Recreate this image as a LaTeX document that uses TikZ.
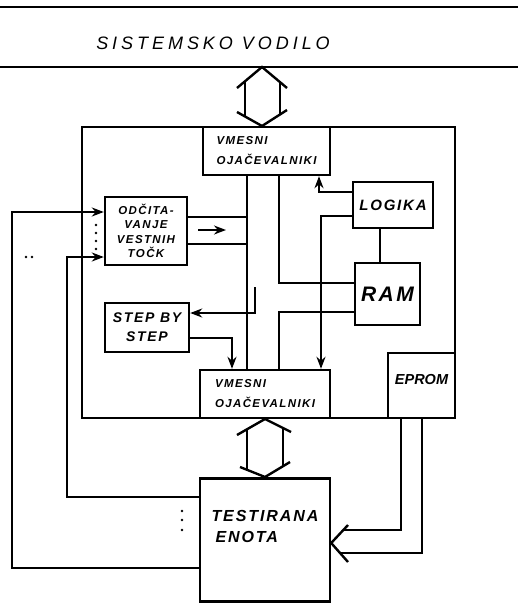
\documentclass[tikz,border=0pt]{standalone}
\usepackage{fontspec}
\setmainfont{Liberation Sans}
\newfontfamily\lettering{Liberation Sans}[LetterSpace=12]
\newfontfamily\titlelettering{Liberation Sans}[LetterSpace=22]
\usetikzlibrary{arrows.meta,positioning,calc}

\begin{document}
\begin{tikzpicture}[
      x=1pt, y=-1pt,
      line width=2.4pt,
      box/.style={rectangle, draw, line width=2.4pt, inner sep=2pt, align=center, font=\lettering\bfseries\itshape},
      arrow/.style={-{Stealth[length=12pt,width=9pt]}},
      dotmark/.style={fill, circle, inner sep=0pt, minimum size=2.8pt}
    ]
    \useasboundingbox (0,0) rectangle (518,603);

    % System bus
    \coordinate (busLa) at (0,7);
    \coordinate (busRa) at (518,7);
    \coordinate (busLb) at (0,67);
    \coordinate (busRb) at (518,67);
    \draw[line width=1.8pt] (busLa) -- (busRa);
    \draw (busLb) -- (busRb);
    \node[font=\titlelettering\itshape\fontsize{18}{21}\selectfont] (vodilo) at (213,43) {SISTEMSKO VODILO};

    % Main blocks
    \node[box, minimum width=373pt, minimum height=291pt] (main) at (268.5,272.5) {};
    \node[box, minimum width=127pt, minimum height=48pt, align=left, font=\lettering\bfseries\itshape\fontsize{11.5}{20}\selectfont] (vmtop) at (266.5,151) {VMESNI\\OJAČEVALNIKI};
    \node[box, minimum width=130pt, minimum height=48pt, align=left, font=\lettering\bfseries\itshape\fontsize{11.5}{20}\selectfont] (vmbot) at (265,394) {VMESNI\\OJAČEVALNIKI};
    \node[box, minimum width=82pt, minimum height=68pt, font=\lettering\bfseries\itshape\fontsize{11.5}{14.5}\selectfont] (odc) at (146,231) {ODČITA-\\VANJE\\VESTNIH\\TOČK};
    \node[box, minimum width=80pt, minimum height=46pt, font=\lettering\bfseries\itshape\fontsize{15}{18}\selectfont] (logika) at (393,205) {LOGIKA};
    \node[box, minimum width=65pt, minimum height=62pt, font=\lettering\bfseries\itshape\fontsize{21}{24}\selectfont] (ram) at (387.5,294) {RAM};
    \node[box, minimum width=84pt, minimum height=49pt, font=\lettering\bfseries\itshape\fontsize{14}{19}\selectfont] (step) at (147,327.5) {STEP BY\\STEP};
    \node[box, minimum width=67pt, minimum height=65pt, font=\bfseries\itshape\fontsize{14.5}{18}\selectfont] (eprom) at (421.5,385.5) {EPROM\\[-6pt]};
    \node[box, minimum width=130pt, minimum height=123pt, align=left, font=\lettering\bfseries\itshape\fontsize{16}{21}\selectfont] (test) at (265,540) {TESTIRANA\\\hspace*{4pt}ENOTA\\[6pt]};

    % Bus arrow to the system bus
    \draw (237,88) -- (262,67) -- (287,88);
    \draw (245,81) -- (245,116);
    \draw (280,82) -- (280,114);
    \draw (237,112) -- (262,126) -- (287,110);

    % Bus arrow to the unit under test
    \draw (237,435) -- (265,419) -- (291,432);
    \draw (247,429) -- (247,470);
    \draw (283,428) -- (283,466);
    \draw (240,467) -- (265,477) -- (290,462);

    % Lines from the unit under test back to the read-out block
    \draw[arrow] (test.west |- 0,568) -| (12,212) -- (odc.west |- 0,212);
    \draw[arrow] (test.west |- 0,497) -| (67,257) -- (odc.west |- 0,257);
    \foreach \yy in {225,233,241,249}
      \node[dotmark] (dl\yy) at (96,\yy) {};
    \node[dotmark] (dm1) at (26,257) {};
    \node[dotmark] (dm2) at (32,257) {};
    \foreach \yy in {511,520,530}
      \node[dotmark] (dt\yy) at (182,\yy) {};

    % Read-out block onto the inner bus
    \draw (odc.east |- 0,217) -- (247,217);
    \draw (odc.east |- 0,244) -- (247,244);
    \draw[arrow, line width=1.8pt] (198,230) -- (226,230);

    % Inner bus lines
    \draw (vmtop.south -| 247,0) -- (vmbot.north -| 247,0);
    \draw (vmtop.south -| 279,0) |- (ram.west |- 0,283);
    \draw (ram.west |- 0,312) -| (vmbot.north -| 279,0);
    \draw[arrow] (logika.west |- 0,192) -| (vmtop.south -| 319,0);
    \draw[arrow] (logika.west |- 0,216) -| (vmbot.north -| 321,0);
    \draw (logika.south -| 380,0) -- (ram.north -| 380,0);

    % Step by step
    \coordinate (stub) at (255,287);
    \draw[arrow] (stub) |- (step.east |- 0,313);
    \draw[arrow] (step.east |- 0,338) -| (vmbot.north -| 232,0);

    % EPROM to the unit under test
    \coordinate (epA) at (343,530);
    \coordinate (epB) at (340,553);
    \draw (eprom.south -| 401,0) |- (epA);
    \draw (eprom.south -| 422,0) |- (epB);
    \draw (348,525) -- (test.east |- 333,543) -- (348,562);
\end{tikzpicture}
\end{document}
